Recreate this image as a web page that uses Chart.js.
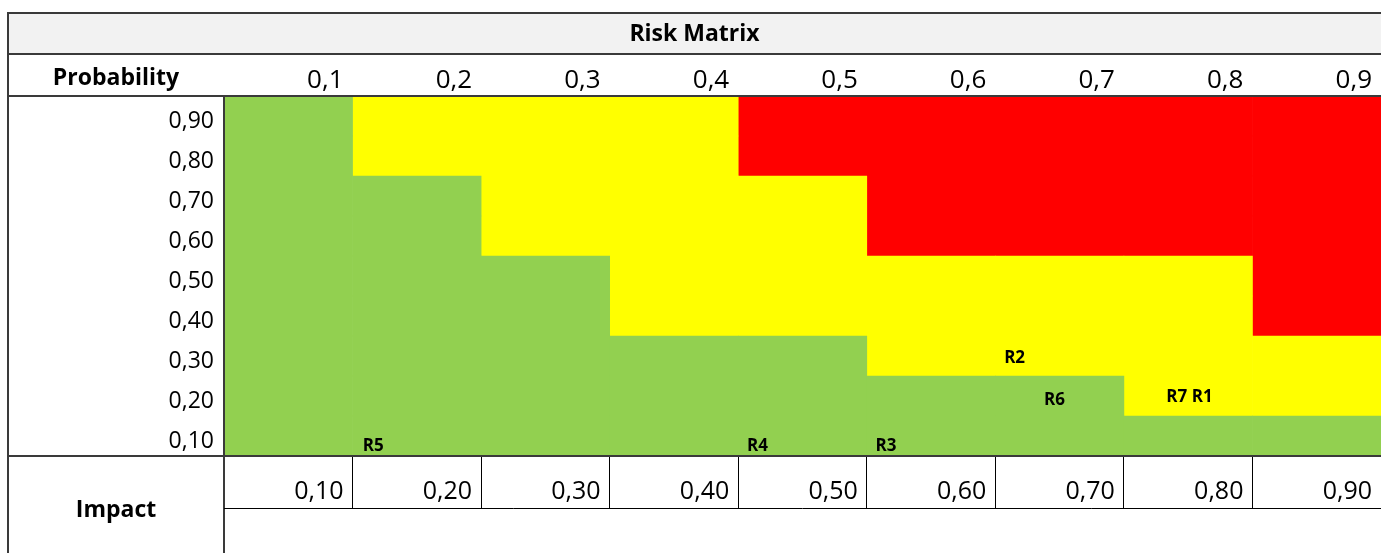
<!DOCTYPE html>
<html>
<head>
<meta charset="utf-8">
<title>Risk Matrix</title>
<script src="https://cdn.jsdelivr.net/npm/chart.js@4.4.1/dist/chart.umd.min.js"></script>
<style>
  html, body { margin: 0; padding: 0; background: #fff; }
  #wrap { width: 1381px; height: 553px; }
</style>
</head>
<body>
<div id="wrap"><canvas id="matrix" width="1381" height="553"></canvas></div>
<script>
// ===== DATA =====
const impactCols = [0.1, 0.2, 0.3, 0.4, 0.5, 0.6, 0.7, 0.8, 0.9];
const probRows = [0.9, 0.8, 0.7, 0.6, 0.5, 0.4, 0.3, 0.2, 0.1];
// zone of each cell, top row first: G = low, Y = medium, R = high
const zoneGrid = [
  "GYYYRRRRR",
  "GYYYRRRRR",
  "GGYYYRRRR",
  "GGYYYRRRR",
  "GGGYYYYYR",
  "GGGYYYYYR",
  "GGGGGYYYY",
  "GGGGGGGYY",
  "GGGGGGGGG"
];
const riskNames = ["R5", "R4", "R3", "R2", "R6", "R7 R1"];
const riskImpact = [0.116, 0.415, 0.515, 0.615, 0.646, 0.751];
const riskProb = [0.025, 0.025, 0.025, 0.245, 0.14, 0.148];

// ===== STYLE =====
const FONT = "'Open Sans', 'Noto Sans', sans-serif";
const ZONES = [
  { key: "G", label: "Low", color: "#92d050" },
  { key: "Y", label: "Medium", color: "#ffff00" },
  { key: "R", label: "High", color: "#ff0000" }
];
const STEP = 0.1;
const CELL_H = 52;       // height of the impact value row under the grid
const LINE = "#3a3a3a";

const comma = (v, d) => v.toFixed(d).replace(".", ",");

// one floating bar per cell, grouped by zone colour
function buildZoneDatasets() {
  return ZONES.map(z => {
    const data = [];
    probRows.forEach((p, r) => {
      impactCols.forEach((imp, c) => {
        if (zoneGrid[r][c] === z.key) {
          data.push({ x: imp - STEP / 2, y: [p - STEP, p] });
        }
      });
    });
    return {
      type: "bar",
      label: z.label,
      data,
      backgroundColor: z.color,
      borderWidth: 0,
      barPercentage: 1,
      categoryPercentage: 1,
      grouped: false
    };
  });
}

// ==========================
// Spreadsheet frame + headers
// ==========================
const sheetFrame = {
  id: "sheetFrame",
  beforeDraw(chart) {
    const { ctx, width, height } = chart;
    ctx.save();
    ctx.fillStyle = "#fff";
    ctx.fillRect(0, 0, width, height);
    ctx.fillStyle = "#f2f2f2";
    ctx.fillRect(8, 13, width - 8, 41);
    ctx.restore();
  },
  afterDraw(chart) {
    const { ctx, chartArea: a, width, height } = chart;
    const line = (x1, y1, x2, y2) => {
      ctx.beginPath(); ctx.moveTo(x1, y1); ctx.lineTo(x2, y2); ctx.stroke();
    };
    ctx.save();
    ctx.strokeStyle = LINE;
    ctx.lineWidth = 2;
    line(8, 13, width, 13);
    line(8, 12, 8, height);
    line(8, 54, width, 54);
    line(8, a.top, width, a.top);
    line(8, a.bottom, width, a.bottom);
    line(a.left, a.top, a.left, height);
    ctx.lineWidth = 1;
    ctx.strokeStyle = "#000";
    line(a.left, a.bottom + CELL_H + 0.5, width, a.bottom + CELL_H + 0.5);

    ctx.fillStyle = "#000";
    ctx.font = "bold 23px " + FONT;
    ctx.textAlign = "center";
    ctx.textBaseline = "middle";
    ctx.fillText("Risk Matrix", (8 + width) / 2, 34);
    ctx.fillText("Probability", (8 + a.left) / 2, 78);
    ctx.fillText("Impact", (8 + a.left) / 2, 510);
    ctx.restore();
  }
};

// risk ids written at their (impact, probability) spot
const riskLabels = {
  id: "riskLabels",
  afterDatasetsDraw(chart) {
    const idx = chart.data.datasets.findIndex(d => d.label === "Risks");
    const meta = chart.getDatasetMeta(idx);
    const { ctx } = chart;
    ctx.save();
    ctx.fillStyle = "#000";
    ctx.font = "bold 17px " + FONT;
    ctx.textAlign = "center";
    ctx.textBaseline = "middle";
    meta.data.forEach((pt, i) => ctx.fillText(riskNames[i], pt.x, pt.y));
    ctx.restore();
  }
};

function renderMatrix() {
  const datasets = buildZoneDatasets();
  datasets.push({
    type: "scatter",
    label: "Risks",
    data: riskNames.map((n, i) => ({ x: riskImpact[i], y: riskProb[i] })),
    pointRadius: 0,
    pointHoverRadius: 0
  });

  new Chart(document.getElementById("matrix"), {
    type: "bar",
    data: { datasets },
    plugins: [sheetFrame, riskLabels],
    options: {
      responsive: false,
      animation: false,
      events: [],
      layout: { padding: 0 },
      plugins: { legend: { display: false }, tooltip: { enabled: false } },
      scales: {
        x: {
          type: "linear",
          position: "bottom",
          min: 0,
          max: 0.9,
          offset: false,
          afterFit: s => { s.height = 97; },
          ticks: {
            stepSize: STEP,
            autoSkip: false,
            maxRotation: 0,
            align: "end",
            labelOffset: -9,
            padding: -31,
            color: "#000",
            font: { family: FONT, size: 25 },
            callback: v => (v < 0.05 ? "" : comma(v, 2))
          },
          grid: { offset: false, drawOnChartArea: false, drawTicks: true, tickLength: CELL_H, color: "#000", lineWidth: 1 },
          border: { display: false }
        },
        xTop: {
          type: "linear",
          axis: "x",
          position: "top",
          min: 0,
          max: 0.9,
          offset: false,
          afterFit: s => { s.height = 96; },
          ticks: {
            stepSize: STEP,
            autoSkip: false,
            maxRotation: 0,
            align: "end",
            labelOffset: -9,
            padding: -4,
            color: "#000",
            font: { family: FONT, size: 26 },
            callback: v => (v < 0.05 ? "" : comma(v, 1))
          },
          grid: { offset: false, drawOnChartArea: false, drawTicks: true, tickLength: 4, color: "rgba(0,0,0,0)" },
          border: { display: false }
        },
        y: {
          type: "linear",
          min: 0,
          max: 0.9,
          afterFit: s => { s.width = 224; },
          ticks: {
            stepSize: STEP,
            autoSkip: false,
            labelOffset: 25,
            padding: 10,
            color: "#000",
            font: { family: FONT, size: 23 },
            callback: v => (v < 0.05 ? "" : comma(v, 2))
          },
          grid: { display: false, drawTicks: false },
          border: { display: false }
        }
      }
    }
  });
}

renderMatrix();
</script>
</body>
</html>
